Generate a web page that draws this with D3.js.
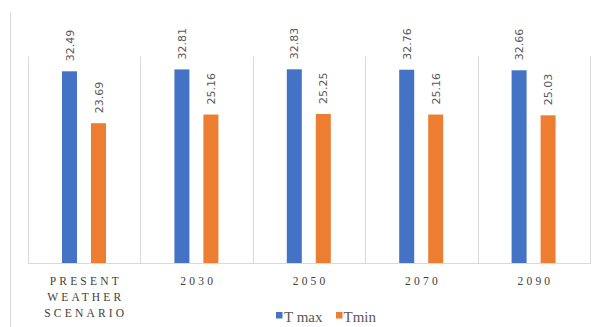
<!DOCTYPE html>
<html>
<head>
<meta charset="utf-8">
<script src="https://cdn.jsdelivr.net/npm/d3@7"></script>
<style>
  html, body { margin: 0; padding: 0; background: #fff; }
  svg { display: block; }
</style>
</head>
<body>
<svg id="chart" width="601" height="327"></svg>
<script>
const categories = [["PRESENT", "WEATHER", "SCENARIO"], ["2030"], ["2050"], ["2070"], ["2090"]];
const seriesNames = ["T max", "Tmin"];
const tmax = [32.49, 32.81, 32.83, 32.76, 32.66];
const tmin = [23.69, 25.16, 25.25, 25.16, 25.03];
const colors = ["#4472C4", "#ED7D31"];

const svg = d3.select("#chart");
const W = 601, H = 327;
const plot = { left: 28, right: 590, top: 56.5, bottom: 263 };

const catKeys = categories.map((c, i) => i);
const x = d3.scaleBand().domain(catKeys).range([plot.left, plot.right]).padding(0);
const y = d3.scaleLinear().domain([0, 35]).range([plot.bottom, plot.top]);

// sub-band for series within each category
const barW = 15;
const xs = d3.scaleOrdinal().domain(seriesNames).range([34, 63]);

// outer frame left line
svg.append("line")
  .attr("x1", 10.5).attr("x2", 10.5).attr("y1", 12).attr("y2", H)
  .attr("stroke", "#d9d9d9").attr("stroke-width", 1);

// vertical category separators
const bounds = catKeys.map(k => x(k)).concat([x(catKeys[catKeys.length - 1]) + x.bandwidth()]);
svg.append("g").selectAll("line").data(bounds).join("line")
  .attr("x1", d => Math.round(d) + 0.5).attr("x2", d => Math.round(d) + 0.5)
  .attr("y1", plot.top).attr("y2", plot.bottom)
  .attr("stroke", "#d9d9d9").attr("stroke-width", 1);

// baseline axis
svg.append("line")
  .attr("x1", plot.left).attr("x2", plot.right + 1)
  .attr("y1", plot.bottom + 0.5).attr("y2", plot.bottom + 0.5)
  .attr("stroke", "#d9d9d9").attr("stroke-width", 1.2);

const seriesData = [tmax, tmin];
seriesData.forEach((vals, si) => {
  const g = svg.append("g");
  g.selectAll("rect").data(vals).join("rect")
    .attr("x", (d, i) => x(i) + xs(seriesNames[si]))
    .attr("y", d => y(d))
    .attr("width", barW)
    .attr("height", d => y(0) - y(d))
    .attr("fill", colors[si]);
  g.selectAll("text").data(vals).join("text")
    .attr("transform", (d, i) => {
      const cx = x(i) + xs(seriesNames[si]) + barW / 2;
      const cy = y(d) - 10;
      return `translate(${cx + 4},${cy}) rotate(-90)`;
    })
    .attr("text-anchor", "start")
    .attr("font-family", "'DejaVu Sans', sans-serif")
    .attr("font-size", "11px")
    .attr("fill", "#595959")
    .text(d => d.toFixed(2));
});

// category labels
const catG = svg.append("g");
categories.forEach((lines, i) => {
  const t = catG.append("text")
    .attr("x", x(i) + x.bandwidth() / 2)
    .attr("y", 285)
    .attr("text-anchor", "middle")
    .attr("font-family", "'Liberation Serif', 'Times New Roman', serif")
    .attr("font-size", "11.5px")
    .attr("letter-spacing", "3.2px")
    .attr("fill", "#404040");
  lines.forEach((ln, j) => {
    t.append("tspan")
      .attr("x", x(i) + x.bandwidth() / 2 + 1.6)
      .attr("y", 285 + j * 16)
      .text(ln);
  });
});

// legend
const legend = [
  { name: seriesNames[0], color: colors[0], sx: 276, tx: 284 },
  { name: seriesNames[1], color: colors[1], sx: 336, tx: 343.5 }
];
const lg = svg.append("g");
lg.selectAll("rect").data(legend).join("rect")
  .attr("x", d => d.sx).attr("y", 312).attr("width", 6.5).attr("height", 6.5)
  .attr("fill", d => d.color);
lg.selectAll("text").data(legend).join("text")
  .attr("x", d => d.tx).attr("y", 321.5)
  .attr("font-family", "'Liberation Serif', 'Times New Roman', serif")
  .attr("font-size", "15px")
  .attr("fill", "#595959")
  .text(d => d.name);
</script>
</body>
</html>
